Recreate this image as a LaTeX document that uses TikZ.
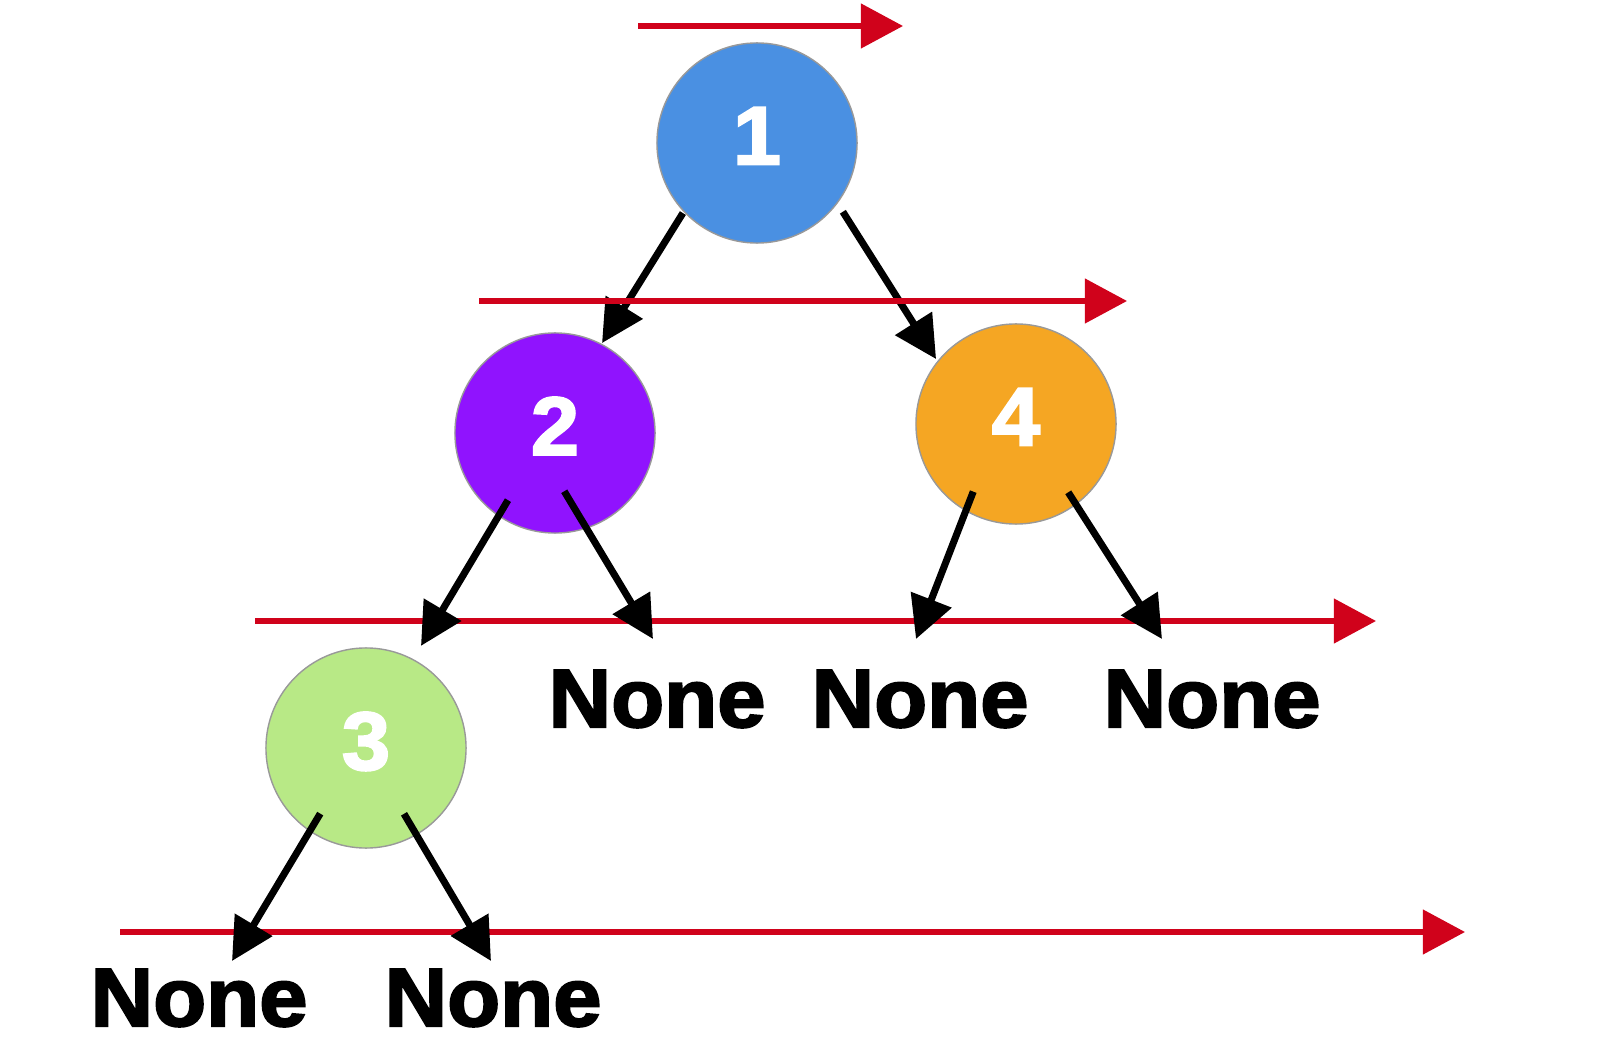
\documentclass[tikz,border=0pt]{standalone}
\usepackage{fontspec}
\setmainfont{Liberation Sans}[BoldFeatures={FakeBold=2.5, FakeStretch=1.05}]
\usetikzlibrary{arrows.meta, calc, positioning}
\definecolor{nodeblue}{HTML}{4A90E2}
\definecolor{nodepurple}{HTML}{9013FE}
\definecolor{nodeorange}{HTML}{F5A623}
\definecolor{nodegreen}{HTML}{B8E986}
\definecolor{levelred}{HTML}{D0021B}

\begin{document}
\begin{tikzpicture}[x=0.01cm, y=-0.01cm]
    \tikzstyle{ball} = [circle, draw=gray!80, line width=0.4pt, minimum size=2cm, inner sep=0pt, outer sep=0pt, text=white, text depth=4pt, font=\bfseries\fontsize{23.5}{28}\selectfont]
    \tikzstyle{nil} = [anchor=base, inner sep=0pt, font=\bfseries\fontsize{23.5}{28}\selectfont]
    \tikzstyle{level} = [draw=levelred, line width=1.45pt, -{Triangle[length=12pt, width=12.5pt]}]
    \tikzstyle{link} = [draw=black, line width=2pt, -{Triangle[length=12pt, width=12pt]}]

    \useasboundingbox (0,0) rectangle (1600,1040);

    % tree
    \node[ball, fill=nodeblue] (n1) at (757,143) {1};
    \node[ball, fill=nodepurple] (n2) at (555,433) {2};
    \node[ball, fill=nodeorange] (n4) at (1016,424) {4};
    \node[ball, fill=nodegreen] (n3) at (366,748) {3};

    \node[nil] (u1) at (657,727) {None};
    \node[nil] (u2) at (920,727) {None};
    \node[nil] (u3) at (1212,727) {None};
    \node[nil] (d1) at (199,1026) {None};
    \node[nil] (d2) at (493,1026) {None};

    % levels
    \coordinate (r1s) at (638,26);   \coordinate (r1e) at (903,26);
    \coordinate (r2s) at (479,301);  \coordinate (r2e) at (1127,301);
    \coordinate (r3s) at (255,621);  \coordinate (r3e) at (1376,621);
    \coordinate (r4s) at (120,932);  \coordinate (r4e) at (1465,932);

    \draw[level] (r1s) -- (r1e);
    \draw[level] (r3s) -- (r3e);
    \draw[level] (r4s) -- (r4e);

    \draw[link] ($(n1)+(136.6:102)$) -- ($(n2)+(-62.4:101.5)$);
    \draw[link] ($(n1)+(38.7:110)$) -- ($(n4)+(-140.9:103)$);

    \draw[level] (r2s) -- (r2e);

    \draw[link] ($(n2)+(125:82)$) -- ($(n3)+(-61.7:116)$);
    \draw[link] ($(n2)+(81:59)$) -- ($(u1.base)+(-4,-88)$);
    \draw[link] ($(n4)+(122.3:80)$) -- ($(u2.base)+(-4,-88)$);
    \draw[link] ($(n4)+(52.6:86)$) -- ($(u3.base)+(-50,-88)$);
    \draw[link] ($(n3)+(124.9:80)$) -- ($(d1.base)+(33,-65)$);
    \draw[link] ($(n3)+(60:76)$) -- ($(d2.base)+(-2,-65)$);

\end{tikzpicture}
\end{document}
